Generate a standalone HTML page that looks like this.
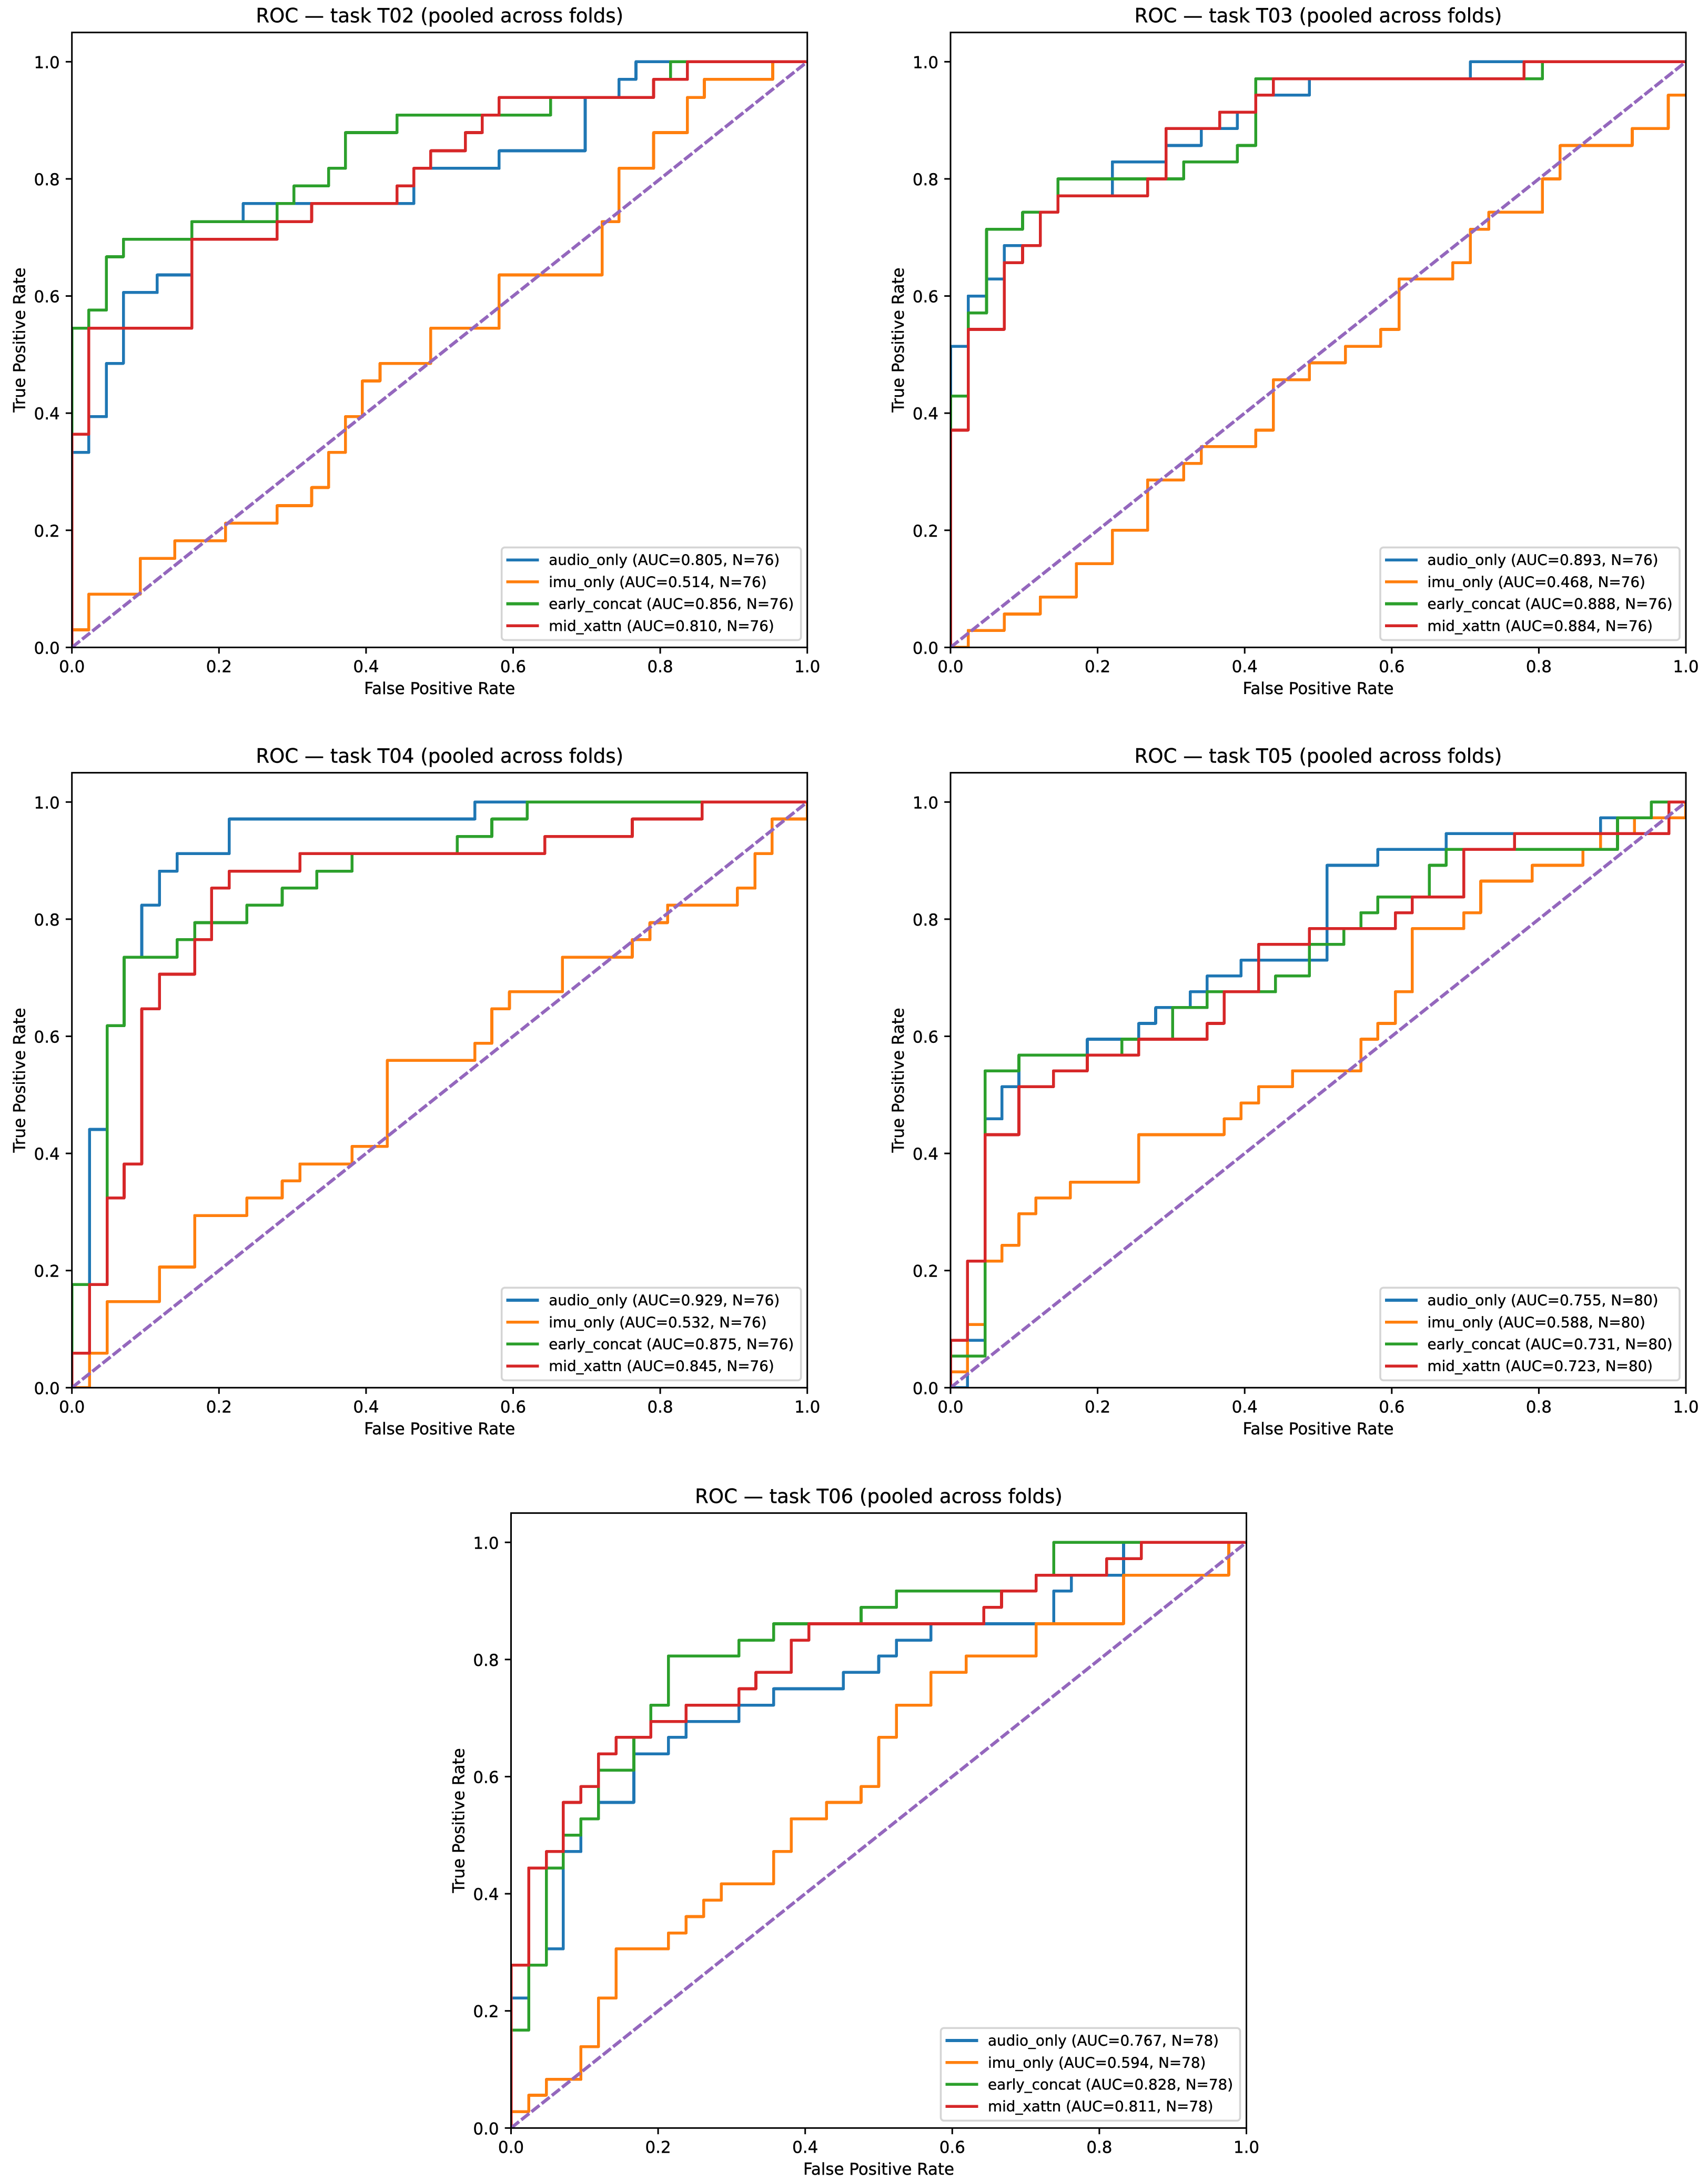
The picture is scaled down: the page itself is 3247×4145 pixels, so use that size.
<!DOCTYPE html>
<html lang="en">
<head>
<meta charset="utf-8">
<title>ROC curves by task</title>
<style>
html,body{margin:0;padding:0;background:#fff;}
svg{display:block;}
text{font-family:"DejaVu Sans","Liberation Sans",sans-serif;fill:#000;stroke:#000;stroke-width:0.4px;}
</style>
</head>
<body>
<svg id="fig" xmlns="http://www.w3.org/2000/svg" width="3247" height="4145" viewBox="0 0 3247 4145"></svg>
<script>
// ---- Shared categories and tick labels ----
const seriesNames = ['audio_only', 'imu_only', 'early_concat', 'mid_xattn'];
const seriesColors = ['#1f77b4', '#ff7f0e', '#2ca02c', '#d62728'];
const tickValues = [0, 0.2, 0.4, 0.6, 0.8, 1.0];
const tickLabels = ['0.0', '0.2', '0.4', '0.6', '0.8', '1.0'];
const chanceLine = [[0, 0], [1, 1]];
const taskIds = ['T02', 'T03', 'T04', 'T05', 'T06'];
const sampleCounts = [76, 76, 76, 80, 78];

// ---- Printed AUC values per task ----
const aucT02 = ['0.805', '0.514', '0.856', '0.810'];
const aucT03 = ['0.893', '0.468', '0.888', '0.884'];
const aucT04 = ['0.929', '0.532', '0.875', '0.845'];
const aucT05 = ['0.755', '0.588', '0.731', '0.723'];
const aucT06 = ['0.767', '0.594', '0.828', '0.811'];

// ---- ROC vertices [FPR, TPR] per task and series ----
const t02Audio = [[0,0],[0,.333],[.023,.333],[.023,.394],[.047,.394],[.047,.485],[.070,.485],[.070,.606],[.116,.606],[.116,.636],[.163,.636],[.163,.727],[.233,.727],[.233,.758],[.465,.758],[.465,.818],[.581,.818],[.581,.848],[.698,.848],[.698,.939],[.744,.939],[.744,.970],[.767,.970],[.767,1],[1,1]];
const t02Imu = [[0,0],[0,.030],[.023,.030],[.023,.091],[.093,.091],[.093,.152],[.140,.152],[.140,.182],[.209,.182],[.209,.212],[.279,.212],[.279,.242],[.326,.242],[.326,.273],[.349,.273],[.349,.333],[.372,.333],[.372,.394],[.395,.394],[.395,.455],[.419,.455],[.419,.485],[.488,.485],[.488,.545],[.581,.545],[.581,.636],[.721,.636],[.721,.727],[.744,.727],[.744,.818],[.791,.818],[.791,.879],[.837,.879],[.837,.939],[.860,.939],[.860,.970],[.953,.970],[.953,1],[1,1]];
const t02Early = [[0,0],[0,.545],[.023,.545],[.023,.576],[.047,.576],[.047,.667],[.070,.667],[.070,.697],[.163,.697],[.163,.727],[.279,.727],[.279,.758],[.302,.758],[.302,.788],[.349,.788],[.349,.818],[.372,.818],[.372,.879],[.442,.879],[.442,.909],[.651,.909],[.651,.939],[.791,.939],[.791,.970],[.814,.970],[.814,1],[1,1]];
const t02Mid = [[0,0],[0,.364],[.023,.364],[.023,.545],[.163,.545],[.163,.697],[.279,.697],[.279,.727],[.326,.727],[.326,.758],[.442,.758],[.442,.788],[.465,.788],[.465,.818],[.488,.818],[.488,.848],[.535,.848],[.535,.879],[.558,.879],[.558,.909],[.581,.909],[.581,.939],[.791,.939],[.791,.970],[.837,.970],[.837,1],[1,1]];

const t03Audio = [[0,0],[0,.514],[.024,.514],[.024,.600],[.049,.600],[.049,.629],[.073,.629],[.073,.686],[.122,.686],[.122,.743],[.146,.743],[.146,.771],[.220,.771],[.220,.829],[.293,.829],[.293,.857],[.341,.857],[.341,.886],[.390,.886],[.390,.914],[.415,.914],[.415,.943],[.488,.943],[.488,.971],[.707,.971],[.707,1],[1,1]];
const t03Imu = [[0,0],[.024,0],[.024,.029],[.073,.029],[.073,.057],[.122,.057],[.122,.086],[.171,.086],[.171,.143],[.220,.143],[.220,.200],[.268,.200],[.268,.286],[.317,.286],[.317,.314],[.341,.314],[.341,.343],[.415,.343],[.415,.371],[.439,.371],[.439,.457],[.488,.457],[.488,.486],[.537,.486],[.537,.514],[.585,.514],[.585,.543],[.610,.543],[.610,.629],[.683,.629],[.683,.657],[.707,.657],[.707,.714],[.732,.714],[.732,.743],[.805,.743],[.805,.800],[.829,.800],[.829,.857],[.927,.857],[.927,.886],[.976,.886],[.976,.943],[1,.943]];
const t03Early = [[0,0],[0,.429],[.024,.429],[.024,.571],[.049,.571],[.049,.714],[.098,.714],[.098,.743],[.146,.743],[.146,.800],[.317,.800],[.317,.829],[.390,.829],[.390,.857],[.415,.857],[.415,.971],[.805,.971],[.805,1],[1,1]];
const t03Mid = [[0,0],[0,.371],[.024,.371],[.024,.543],[.073,.543],[.073,.657],[.098,.657],[.098,.686],[.122,.686],[.122,.743],[.146,.743],[.146,.771],[.268,.771],[.268,.800],[.293,.800],[.293,.886],[.366,.886],[.366,.914],[.415,.914],[.415,.943],[.439,.943],[.439,.971],[.780,.971],[.780,1],[1,1]];

const t04Audio = [[0,0],[0,.176],[.024,.176],[.024,.441],[.048,.441],[.048,.618],[.071,.618],[.071,.735],[.095,.735],[.095,.824],[.119,.824],[.119,.882],[.143,.882],[.143,.912],[.214,.912],[.214,.971],[.548,.971],[.548,1],[1,1]];
const t04Imu = [[0,0],[.024,0],[.024,.059],[.048,.059],[.048,.147],[.119,.147],[.119,.206],[.167,.206],[.167,.294],[.238,.294],[.238,.324],[.286,.324],[.286,.353],[.310,.353],[.310,.382],[.381,.382],[.381,.412],[.429,.412],[.429,.559],[.548,.559],[.548,.588],[.571,.588],[.571,.647],[.595,.647],[.595,.676],[.667,.676],[.667,.735],[.762,.735],[.762,.765],[.786,.765],[.786,.794],[.810,.794],[.810,.824],[.905,.824],[.905,.853],[.929,.853],[.929,.912],[.952,.912],[.952,.971],[1,.971],[1,1]];
const t04Early = [[0,0],[0,.176],[.048,.176],[.048,.618],[.071,.618],[.071,.735],[.143,.735],[.143,.765],[.167,.765],[.167,.794],[.238,.794],[.238,.824],[.286,.824],[.286,.853],[.333,.853],[.333,.882],[.381,.882],[.381,.912],[.524,.912],[.524,.941],[.571,.941],[.571,.971],[.619,.971],[.619,1],[1,1]];
const t04Mid = [[0,0],[0,.059],[.024,.059],[.024,.176],[.048,.176],[.048,.324],[.071,.324],[.071,.382],[.095,.382],[.095,.647],[.119,.647],[.119,.706],[.167,.706],[.167,.765],[.190,.765],[.190,.853],[.214,.853],[.214,.882],[.310,.882],[.310,.912],[.643,.912],[.643,.941],[.762,.941],[.762,.971],[.857,.971],[.857,1],[1,1]];

const t05Audio = [[0,0],[.023,0],[.023,.081],[.047,.081],[.047,.459],[.070,.459],[.070,.514],[.093,.514],[.093,.568],[.186,.568],[.186,.595],[.256,.595],[.256,.622],[.279,.622],[.279,.649],[.326,.649],[.326,.676],[.349,.676],[.349,.703],[.395,.703],[.395,.730],[.512,.730],[.512,.892],[.581,.892],[.581,.919],[.674,.919],[.674,.946],[.884,.946],[.884,.973],[.953,.973],[.953,1],[1,1]];
const t05Imu = [[0,0],[0,.027],[.023,.027],[.023,.108],[.047,.108],[.047,.216],[.070,.216],[.070,.243],[.093,.243],[.093,.297],[.116,.297],[.116,.324],[.163,.324],[.163,.351],[.256,.351],[.256,.432],[.372,.432],[.372,.459],[.395,.459],[.395,.486],[.419,.486],[.419,.514],[.465,.514],[.465,.541],[.558,.541],[.558,.595],[.581,.595],[.581,.622],[.605,.622],[.605,.676],[.628,.676],[.628,.784],[.698,.784],[.698,.811],[.721,.811],[.721,.865],[.791,.865],[.791,.892],[.860,.892],[.860,.919],[.884,.919],[.884,.946],[.930,.946],[.930,.973],[1,.973],[1,1]];
const t05Early = [[0,0],[0,.054],[.047,.054],[.047,.541],[.093,.541],[.093,.568],[.233,.568],[.233,.595],[.302,.595],[.302,.649],[.349,.649],[.349,.676],[.442,.676],[.442,.703],[.488,.703],[.488,.757],[.535,.757],[.535,.784],[.558,.784],[.558,.811],[.581,.811],[.581,.838],[.651,.838],[.651,.892],[.674,.892],[.674,.919],[.907,.919],[.907,.973],[.953,.973],[.953,1],[1,1]];
const t05Mid = [[0,0],[0,.081],[.023,.081],[.023,.216],[.047,.216],[.047,.432],[.093,.432],[.093,.514],[.140,.514],[.140,.541],[.186,.541],[.186,.568],[.256,.568],[.256,.595],[.349,.595],[.349,.622],[.372,.622],[.372,.676],[.419,.676],[.419,.757],[.488,.757],[.488,.784],[.605,.784],[.605,.811],[.628,.811],[.628,.838],[.698,.838],[.698,.919],[.767,.919],[.767,.946],[.977,.946],[.977,1],[1,1]];

const t06Audio = [[0,0],[0,.222],[.024,.222],[.024,.278],[.048,.278],[.048,.306],[.071,.306],[.071,.472],[.095,.472],[.095,.528],[.119,.528],[.119,.556],[.167,.556],[.167,.639],[.214,.639],[.214,.667],[.238,.667],[.238,.694],[.310,.694],[.310,.722],[.357,.722],[.357,.750],[.452,.750],[.452,.778],[.500,.778],[.500,.806],[.524,.806],[.524,.833],[.571,.833],[.571,.861],[.738,.861],[.738,.917],[.762,.917],[.762,.944],[.833,.944],[.833,1],[1,1]];
const t06Imu = [[0,0],[0,.028],[.024,.028],[.024,.056],[.048,.056],[.048,.083],[.095,.083],[.095,.139],[.119,.139],[.119,.222],[.143,.222],[.143,.306],[.214,.306],[.214,.333],[.238,.333],[.238,.361],[.262,.361],[.262,.389],[.286,.389],[.286,.417],[.357,.417],[.357,.472],[.381,.472],[.381,.528],[.429,.528],[.429,.556],[.476,.556],[.476,.583],[.500,.583],[.500,.667],[.524,.667],[.524,.722],[.571,.722],[.571,.778],[.619,.778],[.619,.806],[.714,.806],[.714,.861],[.833,.861],[.833,.944],[.976,.944],[.976,1],[1,1]];
const t06Early = [[0,0],[0,.167],[.024,.167],[.024,.278],[.048,.278],[.048,.444],[.071,.444],[.071,.500],[.095,.500],[.095,.528],[.119,.528],[.119,.611],[.167,.611],[.167,.667],[.190,.667],[.190,.722],[.214,.722],[.214,.806],[.310,.806],[.310,.833],[.357,.833],[.357,.861],[.476,.861],[.476,.889],[.524,.889],[.524,.917],[.714,.917],[.714,.944],[.738,.944],[.738,1],[1,1]];
const t06Mid = [[0,0],[0,.278],[.024,.278],[.024,.444],[.048,.444],[.048,.472],[.071,.472],[.071,.556],[.095,.556],[.095,.583],[.119,.583],[.119,.639],[.143,.639],[.143,.667],[.190,.667],[.190,.694],[.238,.694],[.238,.722],[.310,.722],[.310,.750],[.333,.750],[.333,.778],[.381,.778],[.381,.833],[.405,.833],[.405,.861],[.643,.861],[.643,.889],[.667,.889],[.667,.917],[.714,.917],[.714,.944],[.810,.944],[.810,.972],[.857,.972],[.857,1],[1,1]];

// ---- Groupings of the arrays above ----
const curvesT02 = [t02Audio, t02Imu, t02Early, t02Mid];
const curvesT03 = [t03Audio, t03Imu, t03Early, t03Mid];
const curvesT04 = [t04Audio, t04Imu, t04Early, t04Mid];
const curvesT05 = [t05Audio, t05Imu, t05Early, t05Mid];
const curvesT06 = [t06Audio, t06Imu, t06Early, t06Mid];
const curvesByTask = [curvesT02, curvesT03, curvesT04, curvesT05, curvesT06];
const aucByTask = [aucT02, aucT03, aucT04, aucT05, aucT06];

// ---- Layout (not data) ----
const AXES_W = 1398, AXES_H = 1168.7;
const X_MAX = 1, Y_MAX = 1.05;
const PT = 3.09;
const LINE_W = 5.6, SPINE_W = 3;
const panelLayout = [
  {left: 136.7, top: 61.7},
  {left: 1807, top: 61.7},
  {left: 136.7, top: 1468.6},
  {left: 1807, top: 1468.6},
  {left: 971.5, top: 2875.6}
];
const SVGNS = 'http://www.w3.org/2000/svg';
const fig = document.getElementById('fig');

function make(tag, attrs, parent, text) {
  const el = document.createElementNS(SVGNS, tag);
  for (const k in attrs) el.setAttribute(k, attrs[k]);
  if (text !== undefined) el.textContent = text;
  parent.appendChild(el);
  return el;
}

function drawPanel(i) {
  const box = panelLayout[i];
  const task = taskIds[i];
  const tag = task.toLowerCase();
  const xAxis = v => box.left + (v / X_MAX) * AXES_W;
  const yAxis = v => box.top + AXES_H - (v / Y_MAX) * AXES_H;
  const right = box.left + AXES_W;
  const bottom = box.top + AXES_H;

  const panel = make('g', {}, fig);
  
  

  const title = make('text', {x: box.left + AXES_W / 2, y: box.top - 19, 'text-anchor': 'middle', 'font-size': 12 * PT}, panel, 'ROC — task ' + task + ' (pooled across folds)');
  
  

  const clip = make('clipPath', {id: 'clip-' + tag}, panel);
  make('rect', {x: box.left, y: box.top, width: AXES_W, height: AXES_H}, clip);

  const plot = make('g', {'clip-path': 'url(#clip-' + tag + ')'}, panel);
  
  

  curvesByTask[i].forEach((curve, s) => {
    const pts = curve.map(p => xAxis(p[0]).toFixed(2) + ',' + yAxis(p[1]).toFixed(2)).join(' ');
    const line = make('polyline', {points: pts, fill: 'none', stroke: seriesColors[s], 'stroke-width': LINE_W, 'stroke-linejoin': 'round', 'stroke-linecap': 'square', 'shape-rendering': 'crispEdges'}, plot);
    
    
  });

  const chance = make('line', {
    x1: xAxis(chanceLine[0][0]), y1: yAxis(chanceLine[0][1]),
    x2: xAxis(chanceLine[1][0]), y2: yAxis(chanceLine[1][1]),
    stroke: '#9467bd', 'stroke-width': 6.2,
    'stroke-dasharray': '19.5 5.3'
  }, plot);
  
  

  tickValues.forEach((v, t) => {
    const xt = make('line', {x1: xAxis(v), x2: xAxis(v), y1: bottom, y2: bottom + 3.5 * PT + 1, stroke: '#000', 'stroke-width': SPINE_W}, panel);
    
    
    const xl = make('text', {x: xAxis(v), y: bottom + 47, 'text-anchor': 'middle', 'font-size': 10 * PT}, panel, tickLabels[t]);
    
    
    const yt = make('line', {x1: box.left - 3.5 * PT - 1, x2: box.left, y1: yAxis(v), y2: yAxis(v), stroke: '#000', 'stroke-width': SPINE_W}, panel);
    
    
    const yl = make('text', {x: box.left - 23, y: yAxis(v) + 12, 'text-anchor': 'end', 'font-size': 10 * PT}, panel, tickLabels[t]);
    
    
  });

  const frame = make('rect', {x: box.left, y: box.top, width: AXES_W, height: AXES_H, fill: 'none', stroke: '#000', 'stroke-width': SPINE_W, 'stroke-linejoin': 'miter'}, panel);
  
  

  const xLabel = make('text', {x: box.left + AXES_W / 2, y: bottom + 88.5, 'text-anchor': 'middle', 'font-size': 10 * PT}, panel, 'False Positive Rate');
  
  

  const ylx = box.left - 89;
  const yly = box.top + AXES_H / 2;
  const yLabel = make('text', {x: ylx, y: yly, 'text-anchor': 'middle', 'font-size': 10 * PT, transform: 'rotate(-90 ' + ylx + ' ' + yly + ')'}, panel, 'True Positive Rate');
  
  

  const legendW = 569, legendH = 176;
  const legendX = right - 12 - legendW;
  const legendY = bottom - 190;
  const legend = make('g', {}, panel);
  
  
  const legendBox = make('rect', {x: legendX, y: legendY, width: legendW, height: legendH, rx: 6, ry: 6, fill: '#fff', 'fill-opacity': 0.8, stroke: '#d5d5d5', 'stroke-width': 3.6}, legend);
  
  

  seriesNames.forEach((name, s) => {
    const rowY = legendY + 23.7 + s * 41.7;
    const entry = make('g', {}, legend);
    
    
    const swatch = make('line', {x1: legendX + 9, x2: legendX + 71, y1: rowY, y2: rowY, stroke: seriesColors[s], 'stroke-width': LINE_W, 'shape-rendering': 'crispEdges'}, entry);
    
    
    const label = make('text', {x: legendX + 89.5, y: rowY + 9.6, 'font-size': 9 * PT}, entry, name + ' (AUC=' + aucByTask[i][s] + ', N=' + sampleCounts[i] + ')');
    
    
  });
}

taskIds.forEach((_, i) => drawPanel(i));
</script>
</body>
</html>
